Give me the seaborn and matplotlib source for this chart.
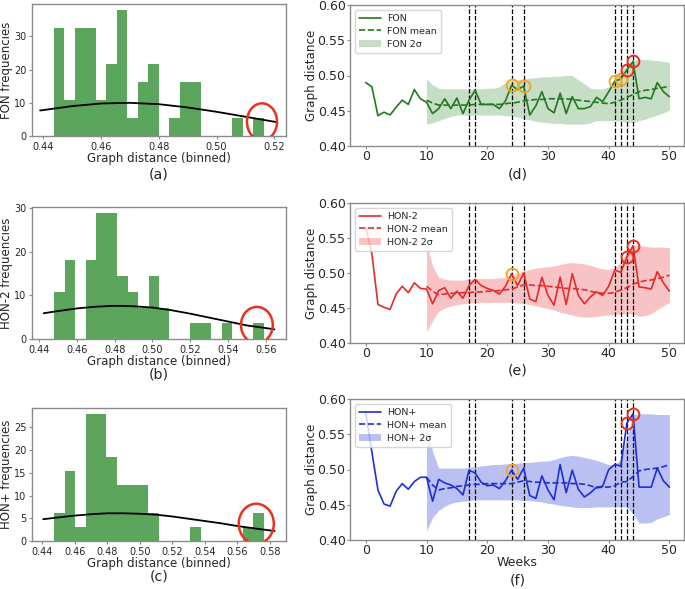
import numpy as np
import pandas as pd
import matplotlib
matplotlib.use("Agg")
import matplotlib.pyplot as plt
from matplotlib.patches import Ellipse
import seaborn as sns

# -------------------------------
# Data
# -------------------------------
weeks = list(range(0, 51))
trend_weeks = list(range(10, 51))
event_weeks = [17, 18, 24, 26, 41, 42, 43, 44]

# weekly graph distance
fon = [0.490, 0.484, 0.443, 0.448, 0.444, 0.455, 0.465, 0.459, 0.480, 0.467,
       0.462, 0.446, 0.453, 0.467, 0.453, 0.468, 0.446, 0.465, 0.479, 0.459,
       0.459, 0.459, 0.453, 0.464, 0.486, 0.480, 0.485, 0.444, 0.457, 0.477,
       0.453, 0.447, 0.475, 0.446, 0.470, 0.453, 0.453, 0.456, 0.469, 0.463,
       0.477, 0.492, 0.495, 0.508, 0.520, 0.467, 0.469, 0.467, 0.490, 0.477,
       0.470]
hon2 = [0.565, 0.528, 0.455, 0.451, 0.448, 0.470, 0.481, 0.472, 0.486, 0.478,
        0.477, 0.456, 0.475, 0.479, 0.464, 0.474, 0.464, 0.482, 0.491, 0.482,
        0.478, 0.475, 0.470, 0.481, 0.499, 0.482, 0.500, 0.463, 0.459, 0.494,
        0.468, 0.454, 0.494, 0.455, 0.499, 0.468, 0.456, 0.466, 0.473, 0.468,
        0.481, 0.504, 0.501, 0.523, 0.539, 0.480, 0.479, 0.477, 0.502, 0.486,
        0.474]
honp = [0.580, 0.525, 0.471, 0.451, 0.448, 0.469, 0.480, 0.472, 0.483, 0.489,
        0.489, 0.455, 0.486, 0.481, 0.478, 0.473, 0.464, 0.499, 0.495, 0.482,
        0.477, 0.478, 0.473, 0.484, 0.499, 0.486, 0.502, 0.463, 0.459, 0.491,
        0.471, 0.457, 0.507, 0.467, 0.499, 0.472, 0.461, 0.467, 0.475, 0.476,
        0.500, 0.507, 0.505, 0.566, 0.579, 0.475, 0.475, 0.475, 0.502, 0.484,
        0.475]

# running mean and 2-sigma band, weeks 10..50
fon_mean = [0.465, 0.461, 0.458, 0.458, 0.458, 0.458, 0.458, 0.458, 0.459, 0.459,
            0.459, 0.459, 0.459, 0.460, 0.461, 0.462, 0.464, 0.465, 0.466, 0.466,
            0.467, 0.467, 0.467, 0.467, 0.466, 0.465, 0.464, 0.463, 0.462, 0.461,
            0.460, 0.462, 0.465, 0.469, 0.473, 0.477, 0.479, 0.480, 0.482, 0.483,
            0.485]
fon_hi = [0.495, 0.487, 0.482, 0.481, 0.481, 0.481, 0.481, 0.481, 0.481, 0.481,
          0.482, 0.482, 0.484, 0.490, 0.493, 0.494, 0.495, 0.496, 0.497, 0.498,
          0.498, 0.499, 0.499, 0.500, 0.500, 0.494, 0.488, 0.482, 0.481, 0.481,
          0.484, 0.495, 0.505, 0.514, 0.522, 0.523, 0.523, 0.522, 0.521, 0.520,
          0.519]
fon_lo = [0.431, 0.433, 0.436, 0.439, 0.442, 0.444, 0.444, 0.444, 0.444, 0.444,
          0.444, 0.444, 0.444, 0.443, 0.443, 0.441, 0.439, 0.437, 0.435, 0.434,
          0.433, 0.432, 0.432, 0.431, 0.431, 0.431, 0.431, 0.433, 0.436, 0.436,
          0.436, 0.436, 0.435, 0.434, 0.433, 0.436, 0.438, 0.441, 0.444, 0.447,
          0.451]

hon2_mean = [0.481, 0.474, 0.469, 0.470, 0.471, 0.471, 0.472, 0.472, 0.473, 0.473,
             0.474, 0.474, 0.475, 0.476, 0.477, 0.480, 0.483, 0.483, 0.482, 0.482,
             0.481, 0.480, 0.479, 0.478, 0.478, 0.477, 0.476, 0.474, 0.472, 0.471,
             0.471, 0.472, 0.476, 0.479, 0.484, 0.487, 0.489, 0.490, 0.492, 0.494,
             0.497]
hon2_hi = [0.542, 0.510, 0.494, 0.491, 0.490, 0.490, 0.490, 0.491, 0.492, 0.492,
           0.492, 0.492, 0.493, 0.494, 0.496, 0.500, 0.503, 0.505, 0.507, 0.508,
           0.509, 0.510, 0.512, 0.514, 0.515, 0.514, 0.513, 0.511, 0.508, 0.506,
           0.505, 0.508, 0.516, 0.530, 0.540, 0.539, 0.538, 0.537, 0.537, 0.537,
           0.536]
hon2_lo = [0.416, 0.432, 0.445, 0.450, 0.453, 0.455, 0.456, 0.457, 0.458, 0.458,
           0.458, 0.458, 0.458, 0.458, 0.458, 0.457, 0.456, 0.455, 0.453, 0.451,
           0.449, 0.447, 0.444, 0.442, 0.440, 0.438, 0.437, 0.437, 0.438, 0.439,
           0.440, 0.441, 0.441, 0.442, 0.442, 0.438, 0.439, 0.442, 0.448, 0.453,
           0.458]

honp_mean = [0.489, 0.478, 0.471, 0.473, 0.474, 0.476, 0.477, 0.478, 0.479, 0.479,
             0.480, 0.480, 0.480, 0.480, 0.480, 0.482, 0.484, 0.483, 0.482, 0.482,
             0.481, 0.481, 0.481, 0.481, 0.480, 0.480, 0.479, 0.477, 0.474, 0.475,
             0.475, 0.477, 0.482, 0.483, 0.490, 0.498, 0.500, 0.501, 0.502, 0.504,
             0.507]
honp_hi = [0.563, 0.525, 0.502, 0.502, 0.502, 0.502, 0.502, 0.503, 0.504, 0.505,
           0.506, 0.507, 0.507, 0.508, 0.508, 0.509, 0.510, 0.510, 0.511, 0.512,
           0.512, 0.514, 0.517, 0.519, 0.520, 0.519, 0.517, 0.515, 0.513, 0.510,
           0.507, 0.507, 0.515, 0.545, 0.578, 0.579, 0.579, 0.579, 0.578, 0.578,
           0.578]
honp_lo = [0.413, 0.432, 0.442, 0.448, 0.452, 0.454, 0.455, 0.456, 0.457, 0.457,
           0.457, 0.457, 0.457, 0.457, 0.457, 0.457, 0.456, 0.456, 0.455, 0.454,
           0.452, 0.451, 0.449, 0.448, 0.447, 0.446, 0.446, 0.446, 0.447, 0.447,
           0.447, 0.447, 0.447, 0.447, 0.437, 0.424, 0.424, 0.425, 0.430, 0.433,
           0.436]

# highlighted weeks (orange = warning, red = anomaly)
fon_orange = [24, 26, 41, 42]
hon2_orange = [24]
honp_orange = [24]
red_weeks = [43, 44]

# histograms (density), 20 bins each
fon_hist = [32.5, 10.8, 32.5, 32.5, 10.8, 21.7, 37.9, 5.4, 16.2, 21.7,
            0, 5.4, 16.2, 16.2, 0, 0, 0, 5.4, 0, 5.4]
fon_range = (0.4438, 0.5163)
hon2_hist = [10.8, 18.0, 0, 18.0, 28.8, 28.8, 14.4, 10.8, 7.2, 14.4,
             7.2, 0, 0, 3.6, 3.6, 0, 3.6, 0, 0, 3.6]
hon2_range = (0.4481, 0.5588)
honp_hist = [6.2, 15.5, 3.1, 27.9, 27.9, 18.6, 12.4, 12.4, 12.4, 6.2,
             0, 0, 0, 3.1, 0, 0, 0, 0, 3.1, 6.2]
honp_range = (0.4472, 0.5762)

# fitted normal curve over each histogram
fon_curve_x = [0.439, 0.44, 0.45, 0.46, 0.47, 0.48, 0.49, 0.50, 0.51, 0.52, 0.521]
fon_curve_y = [7.7, 7.8, 9.0, 9.8, 10.0, 9.6, 8.6, 7.3, 5.8, 4.3, 4.1]
hon2_curve_x = [0.4425, 0.45, 0.46, 0.47, 0.48, 0.49, 0.50, 0.51, 0.52, 0.53,
                0.54, 0.55, 0.56, 0.5645]
hon2_curve_y = [5.9, 6.4, 7.0, 7.4, 7.6, 7.5, 7.2, 6.6, 5.8, 4.9, 4.0, 3.1, 2.5, 2.2]
honp_curve_x = [0.4405, 0.45, 0.46, 0.47, 0.48, 0.49, 0.50, 0.51, 0.52, 0.53,
                0.54, 0.55, 0.56, 0.57, 0.583]
honp_curve_y = [4.8, 5.2, 5.6, 5.9, 6.1, 6.1, 6.0, 5.8, 5.4, 4.9, 4.4, 3.9, 3.3, 2.8, 2.2]

# -------------------------------
# Figure
# -------------------------------
sns.set_style("white")
plt.rcParams['font.family'] = ['DejaVu Sans']
SPINE = '#8a8a8a'
HIST_GREEN = '#5ca55c'
W, H = 685, 589

fig = plt.figure(figsize=(6.85, 5.89), dpi=100)


def px_axes(left, top, right, bottom):
    return fig.add_axes([left / W, 1 - bottom / H, (right - left) / W, (bottom - top) / H])


def style_axes(ax, tick_size):
    for s in ax.spines.values():
        s.set_color(SPINE)
        s.set_linewidth(1.0)
    ax.tick_params(axis='both', labelsize=tick_size, color=SPINE, length=2.5,
                   width=0.8, direction='out', bottom=True, left=True, pad=1.5)


def hist_panel(box, heights, rng, cx, cy, ylabel, xlim, xticks, yticks, ell):
    ax = px_axes(*box)
    edges = np.linspace(rng[0], rng[1], len(heights) + 1)
    df = pd.DataFrame({'dist': (edges[:-1] + edges[1:]) / 2, 'h': heights})
    sns.histplot(data=df, x='dist', weights='h', bins=len(heights), binrange=rng,
                 ax=ax, color=HIST_GREEN, alpha=1.0, edgecolor='none', linewidth=0)
    sns.lineplot(x=cx, y=cy, ax=ax, color='black', linewidth=1.3, sort=False)
    ax.add_patch(Ellipse(ell[:2], ell[2], ell[3], fill=False,
                         edgecolor='#e8321e', linewidth=1.8, zorder=5))
    ax.set_xlim(*xlim)
    ax.set_ylim(0, max(heights) * 1.05)
    ax.set_xticks(xticks)
    ax.set_xticklabels([f"{t:.2f}" for t in xticks])
    ax.set_yticks(yticks)
    style_axes(ax, 7)
    w = box[2] - box[0]
    h = box[3] - box[1]
    ax.set_ylabel(ylabel, fontsize=8.5, va='center')
    ax.yaxis.set_label_coords((7 - box[0]) / w, 0.5)
    ax.set_xlabel("Graph distance (binned)", fontsize=8.5, va='center')
    ax.xaxis.set_label_coords(0.5, -22.5 / h)
    return ax


def trend_panel(box, vals, mean, hi, lo, color, band_alpha, name, orange, tag_weeks):
    ax = px_axes(*box)
    sns.lineplot(x=weeks, y=vals, ax=ax, color=color, linewidth=1.2, label=name)
    sns.lineplot(x=trend_weeks, y=mean, ax=ax, color=color, linewidth=1.2,
                 linestyle='--', label=name + " mean")
    ax.fill_between(trend_weeks, lo, hi, color=color, alpha=band_alpha,
                    linewidth=0, label=name + " 2\u03c3")
    for w in event_weeks:
        ax.axvline(w, color='black', linestyle='--', linewidth=0.9, zorder=1)
    ax.plot(orange, [vals[w] for w in orange], 'o', markersize=8.5,
            markerfacecolor='none', markeredgecolor='#f5a623', markeredgewidth=1.4)
    ax.plot(tag_weeks, [vals[w] for w in tag_weeks], 'o', markersize=8.5,
            markerfacecolor='none', markeredgecolor='#e8321e', markeredgewidth=1.4)
    ax.set_xlim(-2.6, 52.4)
    ax.set_ylim(0.40, 0.60)
    ax.set_xticks([0, 10, 20, 30, 40, 50])
    ax.set_yticks([0.40, 0.45, 0.50, 0.55, 0.60])
    ax.set_yticklabels([f"{t:.2f}" for t in [0.40, 0.45, 0.50, 0.55, 0.60]])
    ax.set_ylabel("Graph distance", fontsize=8.6, va='center')
    ax.yaxis.set_label_coords((311 - box[0]) / (box[2] - box[0]), 0.5)
    ax.set_xlabel("")
    ax.legend(loc='upper left', fontsize=6.8, frameon=True, handlelength=2.3,
              borderpad=0.45, labelspacing=0.4, handletextpad=0.7)
    style_axes(ax, 9)
    ax.tick_params(axis='both', length=2, pad=1.2)
    return ax


hist_panel((32, 4, 286, 136), fon_hist, fon_range, fon_curve_x, fon_curve_y,
           "FON frequencies", (0.4362, 0.5240), [0.44, 0.46, 0.48, 0.50, 0.52],
           [0, 10, 20, 30], (0.5157, 4.3, 0.0104, 11.1))
hist_panel((32, 207, 286, 339), hon2_hist, hon2_range, hon2_curve_x, hon2_curve_y,
           "HON-2 frequencies", (0.4363, 0.5706),
           [0.44, 0.46, 0.48, 0.50, 0.52, 0.54, 0.56],
           [0, 10, 20, 30], (0.5552, 3.2, 0.0168, 8.3))
hist_panel((32, 408, 286, 541), honp_hist, honp_range, honp_curve_x, honp_curve_y,
           "HON+ frequencies", (0.4336, 0.5900),
           [0.44, 0.46, 0.48, 0.50, 0.52, 0.54, 0.56, 0.58],
           [0, 5, 10, 15, 20, 25], (0.5717, 3.8, 0.0216, 8.8))

trend_panel((350, 5, 684, 146), fon, fon_mean, fon_hi, fon_lo, '#1f7a1f', 0.25,
            "FON", fon_orange, red_weeks)
trend_panel((350, 203, 684, 343), hon2, hon2_mean, hon2_hi, hon2_lo, '#e8292b', 0.28,
            "HON-2", hon2_orange, red_weeks)
ax_f = trend_panel((350, 399, 684, 540), honp, honp_mean, honp_hi, honp_lo, '#1f2fd6', 0.3,
                   "HON+", honp_orange, red_weeks)
ax_f.set_xlabel("Weeks", fontsize=9, va='center')
ax_f.xaxis.set_label_coords(0.5, -23 / 141)

# panel tags
for x, y, t in [(159, 175, "(a)"), (159, 375, "(b)"), (159, 577, "(c)"),
                (518, 175, "(d)"), (518, 371, "(e)"), (518, 580, "(f)")]:
    fig.text(x / W, 1 - y / H, t, ha='center', va='center', fontsize=10.2)

fig.savefig("out.png", dpi=100)
